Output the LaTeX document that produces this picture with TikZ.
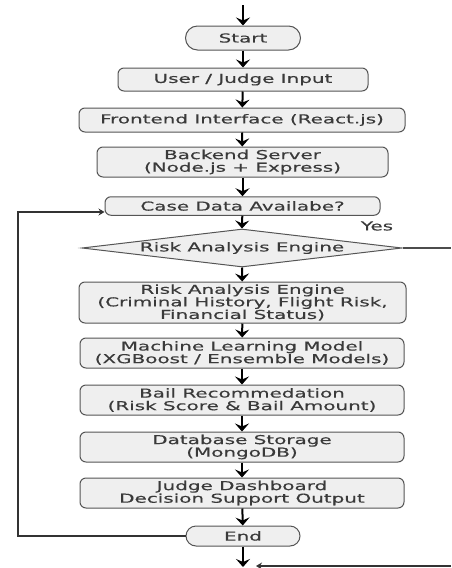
\documentclass[tikz,border=0pt]{standalone}
\usepackage{fontspec}
\usetikzlibrary{arrows.meta,shapes.geometric}
\newfontfamily\boxfont[FakeStretch=1.62,FakeBold=0.4]{DejaVu Sans}
\definecolor{boxfill}{HTML}{EFEFEF}
\definecolor{boxdraw}{HTML}{555555}
\definecolor{txt}{HTML}{3A3A3A}
\tikzset{
  txtstyle/.style={text=txt, font=\boxfont\fontsize{12.3}{12.6}\selectfont},
  base/.style={draw=boxdraw, fill=boxfill, line width=1pt, inner sep=0pt, align=center, txtstyle},
  procbox/.style={base, rounded corners=6pt},
  termbox/.style={base, rounded corners=10pt},
  decbox/.style={base, diamond, aspect=8.4},
  flow/.style={line width=2pt, -{Stealth[length=8pt,width=14pt,inset=3pt]}},
  thin/.style={line width=1.3pt, draw=black!80, -{Stealth[length=6pt,width=7pt,inset=2pt]}},
  plain/.style={line width=1.3pt, draw=black!70}
}
\begin{document}
\begin{tikzpicture}[x=1pt,y=-1pt]
\useasboundingbox (0,0) rectangle (451,568);
\coordinate (top) at (243,5);
\node[termbox, rounded corners=12pt, minimum width=115pt, minimum height=24pt] (start) at (243,38) {Start};
\node[procbox, minimum width=250pt, minimum height=23pt] (input) at (243,79.5) {User / Judge Input};
\node[procbox, minimum width=326pt, minimum height=24pt] (front) at (242,120) {Frontend Interface (React.js)};
\node[procbox, minimum width=291pt, minimum height=30pt] (back) at (242.5,162) {Backend Server\\(Node.js + Express)};
\node[procbox, minimum width=275pt, minimum height=18.5pt] (case) at (242.5,206) {Case Data Availabe?};
\node[decbox, minimum width=320pt, minimum height=38pt] (dec) at (242,248) {};
\node[txtstyle] (declabel) at (242,248) {Risk Analysis Engine};
\node[procbox, minimum width=327pt, minimum height=41pt] (risk) at (242.5,302.5) {Risk Analysis Engine\\(Criminal History, Flight Risk,\\Financial Status)};
\node[procbox, minimum width=324pt, minimum height=30pt] (ml) at (242,353) {Machine Learning Model\\(XGBoost / Ensemble Models)};
\node[procbox, minimum width=324pt, minimum height=30pt] (bail) at (242,400) {Bail Recommedation\\(Risk Score \& Bail Amount)};
\node[procbox, minimum width=324pt, minimum height=30pt] (db) at (242,447) {Database Storage\\(MongoDB)};
\node[procbox, minimum width=324pt, minimum height=30pt] (judge) at (242,493) {Judge Dashboard\\Decision Support Output};
\node[termbox, minimum width=114pt, minimum height=20pt] (end) at (243,536) {End};
\node[txtstyle] (yes) at (377,226) {Yes};
\coordinate (bot) at (243,567);
\coordinate (rtop) at (451,248);
\coordinate (rbot) at (451,566);
\coordinate (rend) at (256,566);
\coordinate (l1) at (18,536);
\coordinate (l2) at (18,212);

\draw[flow] (top) -- (start.north);
\draw[flow] (start) -- (input);
\draw[flow] (input) -- (front);
\draw[flow] (front) -- (back);
\draw[flow] (back) -- (case);
\draw[flow] (case) -- (dec.north);
\draw[flow] (dec.south) -- (risk);
\draw[flow] (risk) -- (ml);
\draw[flow] (ml) -- (bail);
\draw[flow] (bail) -- (db);
\draw[flow] (db) -- (judge);
\draw[flow] (judge) -- (end);
\draw[flow] (end) -- (bot);
\draw[thin] (end.west) -- (l1) -- (l2) -- (case.west |- l2);
\draw[plain] (dec.east) -- (rtop);
\draw[thin] (rbot) -- (rend);
\end{tikzpicture}
\end{document}
